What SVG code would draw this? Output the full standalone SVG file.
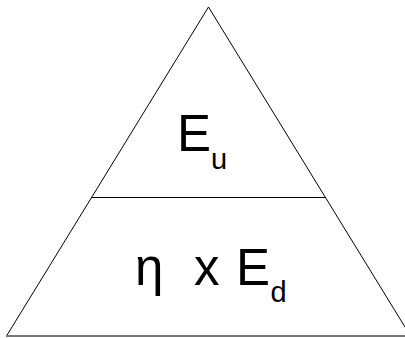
<svg xmlns="http://www.w3.org/2000/svg" width="405" height="338" viewBox="0 0 405 338">
<style>
.ln{fill:none;stroke:#000;stroke-width:1}
.big{font-family:"Liberation Sans",Arial,sans-serif;font-size:51px;fill:#000}
.sub{font-size:29px}
</style>
<rect width="405" height="338" fill="#fff"/>
<g id="connectors">
<path class="ln" d="M208.5,7 L6.5,336 M208.5,7 L410.5,336"/>
<path d="M6,336 L405,336" stroke="#777" stroke-width="2" fill="none"/>
<path class="ln" d="M92,197.5 L325,197.5"/>
</g>
<g id="top">
<text class="big" x="177" y="151">E<tspan class="sub" x="211" y="168.5">u</tspan></text>
</g>
<g id="bottom">
<text class="big" y="285"><tspan x="135">η</tspan><tspan x="194">x</tspan><tspan x="236">E</tspan><tspan class="sub" x="270.5" y="302">d</tspan></text>
</g>
</svg>
